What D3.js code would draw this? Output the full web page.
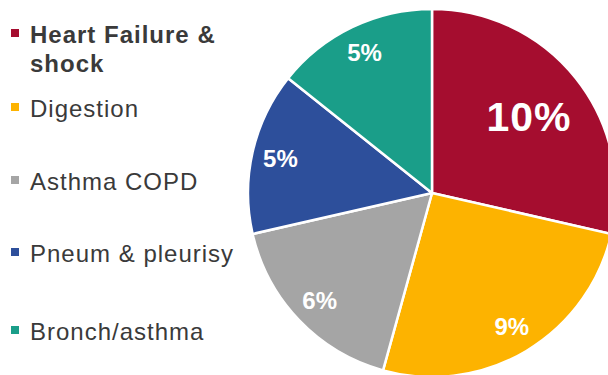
<!DOCTYPE html>
<html>
<head>
<meta charset="utf-8">
<script src="https://cdn.jsdelivr.net/npm/d3@7"></script>
<style>
  html, body { margin: 0; padding: 0; background: #fff; }
  svg { display: block; }
</style>
</head>
<body>
<svg id="chart" width="608" height="375"></svg>
<script>
// Share of readmissions by diagnosis group
const categories = ["Heart Failure & shock", "Digestion", "Asthma COPD", "Pneum & pleurisy", "Bronch/asthma"];
const legendLines = [["Heart Failure &", "shock"], ["Digestion"], ["Asthma COPD"], ["Pneum & pleurisy"], ["Bronch/asthma"]];
const values = [10, 9, 6, 5, 5];
const valueLabels = ["10%", "9%", "6%", "5%", "5%"];
const colors = ["#A50D2F", "#FDB300", "#A5A5A5", "#2D4F9B", "#1A9E89"];

const svg = d3.select("#chart");

const cx = 432, cy = 193, R = 184;

const pie = d3.pie().sort(null).value(d => d.value);
const data = categories.map((c, i) => ({ name: c, value: values[i], label: valueLabels[i], color: colors[i], idx: i }));
const arcs = pie(data);

const arc = d3.arc().innerRadius(0).outerRadius(R);

const g = svg.append("g").attr("transform", `translate(${cx},${cy})`);

g.selectAll("path.slice")
  .data(arcs)
  .join("path")
  .attr("class", "slice")
  .attr("d", arc)
  .attr("fill", d => d.data.color)
  .attr("stroke", "#fff")
  .attr("stroke-width", 2.5)
  .attr("stroke-linejoin", "round");

// value labels inside the slices; the largest one is set bigger and closer in
const largest = d3.max(values);
g.selectAll("text.val")
  .data(arcs)
  .join("text")
  .attr("class", "val")
  .each(function (d) {
    const big = d.data.value === largest;
    const r = big ? R * 0.66 : R * 0.845;
    const la = d3.arc().innerRadius(r).outerRadius(r);
    const [x, y] = la.centroid(d);
    d3.select(this)
      .attr("x", x + (big ? 2 : 0))
      .attr("y", y)
      .attr("font-size", big ? 41 : 24)
      .attr("letter-spacing", big ? 1 : 0);
  })
  .attr("text-anchor", "middle")
  .attr("dominant-baseline", "central")
  .attr("font-family", "'Liberation Sans', Arial, Helvetica, sans-serif")
  .attr("font-weight", "bold")
  .attr("fill", "#fff")
  .text(d => d.data.label);

// legend
const legendY = [43, 117, 190, 262, 340];
const legend = svg.append("g")
  .attr("font-family", "'Liberation Sans', Arial, Helvetica, sans-serif")
  .attr("font-size", 24)
  .attr("fill", "#3a3a3a")
  .attr("letter-spacing", 1);

data.forEach((d, i) => {
  const item = legend.append("g").attr("transform", `translate(0,${legendY[i]})`);
  item.append("rect")
    .attr("x", 11).attr("y", -14)
    .attr("width", 8).attr("height", 8)
    .attr("fill", d.color);
  const t = item.append("text")
    .attr("x", 30).attr("y", 0)
    .attr("font-weight", i === 0 ? "bold" : "normal");
  legendLines[i].forEach((line, j) => {
    t.append("tspan").attr("x", 30).attr("dy", j === 0 ? 0 : 29).text(line);
  });
});
</script>
</body>
</html>
